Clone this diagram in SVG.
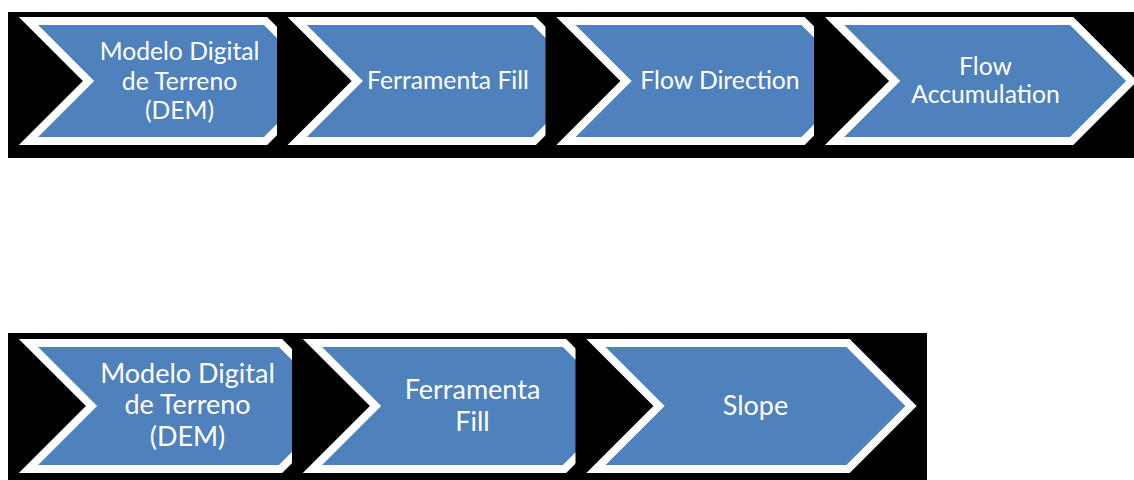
<svg xmlns="http://www.w3.org/2000/svg" width="1134" height="480" viewBox="0 0 1134 480">
<style>
.bg{fill:#000}
.chev{fill:#4F81BD;stroke:#fff;stroke-width:8;stroke-linejoin:miter;stroke-miterlimit:10}
.t{fill:#fff;font-family:Lato,"Open Sans","Liberation Sans",sans-serif;text-anchor:middle}
.t1{font-size:24.7px}
.t2{font-size:27px}
</style>
<defs>
<path id="chevT" d="M0,0 H237 L297,60 L237,120 H0 L60,60 Z"/>
<path id="chevB" d="M0,0 H252 L315,63 L252,126 H0 L63,63 Z"/>
</defs>
<rect width="1134" height="480" fill="#fff"/>
<g id="connectors"/>
<g id="top-1">
<rect class="bg" x="8" y="12" width="325" height="146"/>
<use href="#chevT" class="chev" x="28.5" y="21"/>
<text class="t t1" x="179.5" y="59.5">Modelo Digital</text>
<text class="t t1" x="179.5" y="89.5">de Terreno</text>
<text class="t t1" x="179.5" y="119">(DEM)</text>
</g>
<g id="top-2">
<rect class="bg" x="277" y="12" width="325" height="146"/>
<use href="#chevT" class="chev" x="297.2" y="21"/>
<text class="t t1" x="448" y="89">Ferramenta Fill</text>
</g>
<g id="top-3">
<rect class="bg" x="545.5" y="12" width="325" height="146"/>
<use href="#chevT" class="chev" x="566" y="21"/>
<text class="t t1" x="720" y="88.5">Flow Direction</text>
</g>
<g id="top-4">
<rect class="bg" x="814" y="12" width="325" height="146"/>
<use href="#chevT" class="chev" x="834.6" y="21"/>
<text class="t t1" x="985.5" y="74.5">Flow</text>
<text class="t t1" x="985.5" y="103">Accumulation</text>
</g>
<g id="bottom-1">
<rect class="bg" x="8" y="333" width="352" height="147"/>
<use href="#chevB" class="chev" x="28.5" y="343"/>
<text class="t t2" x="187.5" y="382.5">Modelo Digital</text>
<text class="t t2" x="187.5" y="413.5">de Terreno</text>
<text class="t t2" x="187.5" y="445.5">(DEM)</text>
</g>
<g id="bottom-2">
<rect class="bg" x="292" y="333" width="352" height="147"/>
<use href="#chevB" class="chev" x="312.5" y="343"/>
<text class="t t2" x="472.5" y="398.5">Ferramenta</text>
<text class="t t2" x="472.5" y="430.5">Fill</text>
</g>
<g id="bottom-3">
<rect class="bg" x="575.5" y="333" width="351.5" height="147"/>
<use href="#chevB" class="chev" x="596" y="343"/>
<text class="t t2" x="755.5" y="414.5">Slope</text>
</g>
</svg>
